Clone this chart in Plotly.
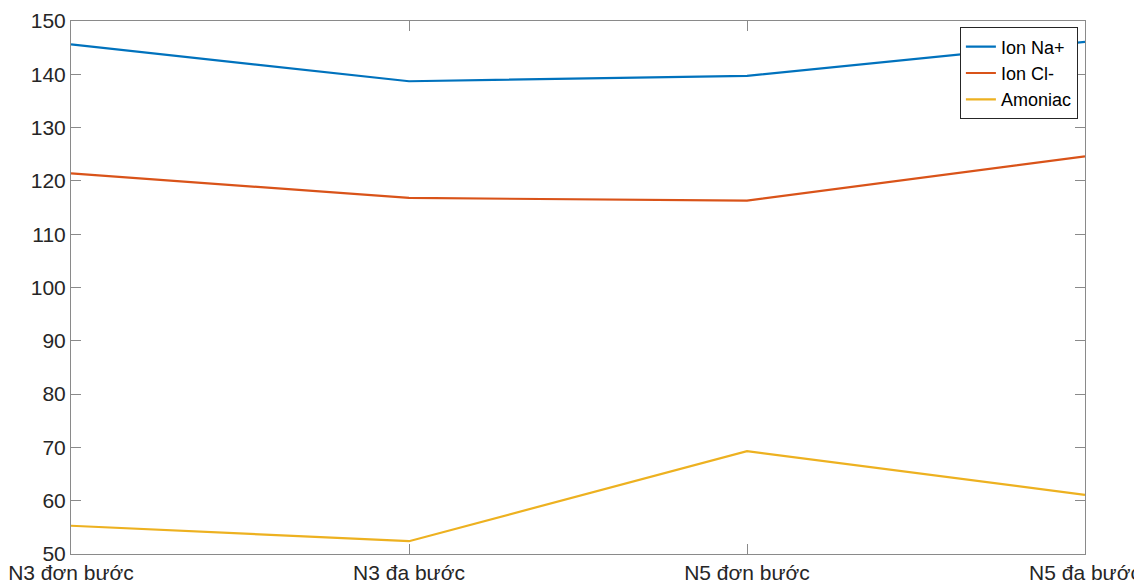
import plotly.graph_objects as go

categories = ["N3 đơn bước", "N3 đa bước", "N5 đơn bước", "N5 đa bước"]
na_values = [145.6, 138.7, 139.7, 146.1]
cl_values = [121.4, 116.8, 116.3, 124.6]
nh3_values = [55.3, 52.4, 69.3, 61.1]
series_names = ["Ion Na+", "Ion Cl-", "Amoniac"]
colors = ["#0072BD", "#D95319", "#EDB120"]
y_ticks = list(range(50, 151, 10))

fig = go.Figure()
for name, vals, c in zip(series_names, [na_values, cl_values, nh3_values], colors):
    fig.add_trace(go.Scatter(x=list(range(len(categories))), y=vals, mode="lines",
                             name=name, line=dict(color=c, width=2.2)))

axis_common = dict(showline=True, linecolor="#8a8a8a", linewidth=1, mirror="allticks",
                   ticks="inside", ticklen=10, tickcolor="#8a8a8a", showgrid=False,
                   zeroline=False, automargin=False, ticklabeloverflow="allow",
                   tickfont=dict(size=21, color="#262626"))

fig.update_xaxes(range=[0, 3], tickvals=list(range(len(categories))), ticktext=categories,
                 ticklabelstandoff=0, **axis_common)
fig.update_yaxes(range=[50, 150], tickvals=y_ticks, **axis_common)

fig.update_layout(
    width=1134, height=575,
    margin=dict(l=63, r=57, t=13, b=29),
    paper_bgcolor="white", plot_bgcolor="white",
    font=dict(family="Liberation Sans, Arial, sans-serif", color="#262626"),
    showlegend=True,
    legend=dict(x=0.993, y=0.988, xanchor="right", yanchor="top",
                bgcolor="white", bordercolor="#262626", borderwidth=1,
                font=dict(size=18, color="#000000"), tracegroupgap=0,
                itemwidth=30),
)

fig.write_html("out.html")
